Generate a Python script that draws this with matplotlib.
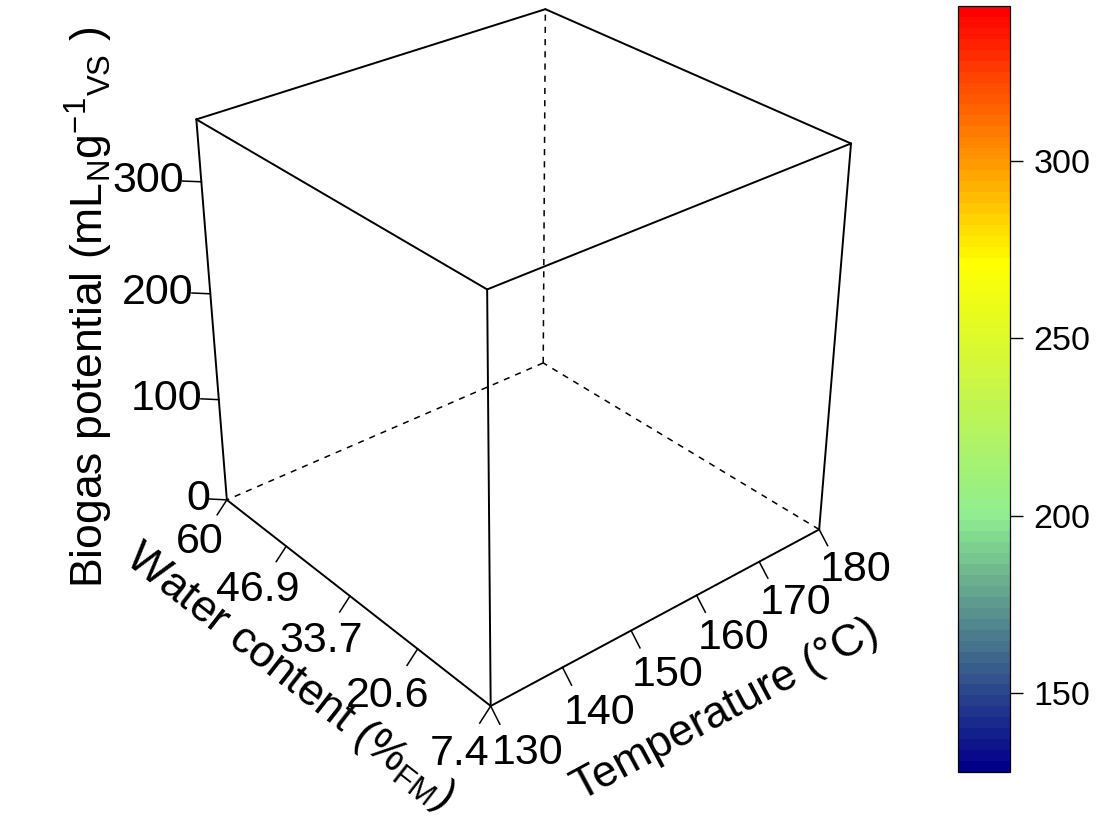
import numpy as np
import matplotlib
matplotlib.use("Agg")
import matplotlib.pyplot as plt
from matplotlib.colors import LinearSegmentedColormap, Normalize
from matplotlib.cm import ScalarMappable

plt.rcParams['font.family'] = ['Liberation Sans', 'DejaVu Sans']
plt.rcParams['mathtext.fontset'] = 'custom'
plt.rcParams['mathtext.rm'] = 'Liberation Sans'
plt.rcParams['mathtext.it'] = 'Liberation Sans:italic'

# axis ranges and ticks
water_range = [7.4, 60]
temp_range = [130, 180]
biogas_range = [0, 353.3]
water_ticks = [60, 46.9, 33.7, 20.6, 7.4]
temp_ticks = [130, 140, 150, 160, 170, 180]
biogas_ticks = [0, 100, 200, 300]
colour_range = [127.8, 343.7]
colour_ticks = [150, 200, 250, 300]

# view: azimuth, elevation, eye distance (box units), px per box unit, box centre in px
theta, phi, dist = 50.0, 30.0, 10.0
kscale, cx, cy = 220.7, 520.0, 332.5

wlo, whi = water_range
tlo, thi = temp_range
zlo, zhi = biogas_range
wspan, tspan, zspan = whi - wlo, thi - tlo, zhi - zlo


def P(w, t, z):
    # data -> screen (box units, y up), perspective like R persp
    x = ((wlo + whi) / 2 - w) / (wspan / 2)
    y = (t - (tlo + thi) / 2) / (tspan / 2)
    zn = 2 * (z - zlo) / zspan - 1
    th, ph = np.radians(theta), np.radians(phi)
    x1 = x * np.cos(th) + y * np.sin(th)
    z1 = x * np.sin(th) - y * np.cos(th)
    y2 = zn * np.cos(ph) - z1 * np.sin(ph)
    z2 = zn * np.sin(ph) + z1 * np.cos(ph)
    s = dist / (dist - z2)
    return x1 * s, y2 * s


def angle(a, b):
    return np.degrees(np.arctan2(b[1] - a[1], b[0] - a[0]))


fig = plt.figure(figsize=(11.1, 8.3), dpi=100)
ax = fig.add_axes([0, 0, 1, 1])
ax.set_xlim(-cx / kscale, (1110 - cx) / kscale)
ax.set_ylim((cy - 830) / kscale, cy / kscale)
ax.axis('off')

# box
L0, N0, R0, B0 = P(whi, tlo, zlo), P(wlo, tlo, zlo), P(wlo, thi, zlo), P(whi, thi, zlo)
L1, N1, R1, B1 = P(whi, tlo, zhi), P(wlo, tlo, zhi), P(wlo, thi, zhi), P(whi, thi, zhi)
solid = [(L0, N0), (N0, R0), (L1, N1), (N1, R1), (R1, B1), (B1, L1),
         (L0, L1), (N0, N1), (R0, R1)]
dashed = [(R0, B0), (B0, L0), (B0, B1)]
for a, b in solid:
    ax.plot([a[0], b[0]], [a[1], b[1]], color='black', lw=1.4, solid_capstyle='round')
for a, b in dashed:
    ax.plot([a[0], b[0]], [a[1], b[1]], color='black', lw=1.1, dashes=(4, 4))

fs = 31
fs_title = 32

# water content axis
for w in water_ticks:
    a = P(w, tlo, zlo); b = P(w, tlo - 0.03 * tspan, zlo - 0.03 * zspan)
    ax.plot([a[0], b[0]], [a[1], b[1]], color='black', lw=1.1)
    c = P(w, tlo - 0.085 * tspan, zlo - 0.085 * zspan)
    ax.text(c[0], c[1], f'{w:g}', fontsize=fs, ha='center', va='center')
c = P(30.9, tlo - 0.21 * tspan, zlo - 0.09 * zspan)
ax.text(c[0], c[1], r'Water content (%$_\mathregular{FM}$)', fontsize=fs_title,
        rotation=angle(L0, N0), rotation_mode='anchor', ha='center', va='center')

# temperature axis
for t in temp_ticks:
    a = P(wlo, t, zlo); b = P(wlo - 0.03 * wspan, t, zlo - 0.03 * zspan)
    ax.plot([a[0], b[0]], [a[1], b[1]], color='black', lw=1.1)
    c = P(wlo - 0.12 * wspan, t, zlo - 0.05 * zspan)
    ax.text(c[0], c[1], f'{t}', fontsize=fs, ha='center', va='center')
c = P(wlo - 0.26 * wspan, 152, zlo - 0.08 * zspan)
ax.text(c[0], c[1], 'Temperature (°C)', fontsize=fs_title,
        rotation=angle(N0, R0), rotation_mode='anchor', ha='center', va='center')

# biogas axis
for z in biogas_ticks:
    a = P(whi, tlo, z); b = P(whi + 0.03 * wspan, tlo - 0.03 * tspan, z)
    ax.plot([a[0], b[0]], [a[1], b[1]], color='black', lw=1.1)
    c = P(whi + 0.028 * wspan, tlo - 0.028 * tspan, z)
    ax.text(c[0], c[1], f'{z}', fontsize=fs, ha='right', va='center')
c = P(whi + 0.203 * wspan, tlo - 0.203 * tspan, (zlo + zhi) / 2 + 6)
ax.text(c[0], c[1],
        r'Biogas potential (mL$_\mathregular{N}$g$^{-1}$$_\mathregular{VS}$ )',
        fontsize=fs_title, rotation=90, rotation_mode='anchor', ha='center', va='center')

# colour key
cmap = LinearSegmentedColormap.from_list('key', ['darkblue', 'lightgreen', 'yellow', 'red'], N=70)
cax = fig.add_axes([958 / 1110, (830 - 772) / 830, 52 / 1110, 766 / 830])
cb = fig.colorbar(ScalarMappable(Normalize(*colour_range), cmap), cax=cax, ticks=colour_ticks)
cb.outline.set_linewidth(0.9)
cax.tick_params(length=9, width=1, labelsize=24.5, pad=8)

fig.savefig('out.png', dpi=100)
